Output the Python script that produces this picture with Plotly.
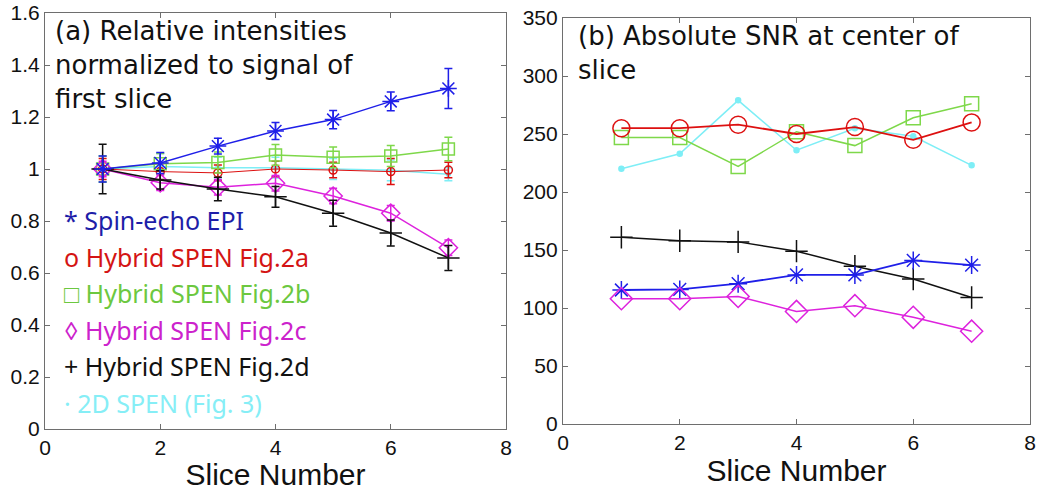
import plotly.graph_objects as go

W, H = 1038, 491

slices = [1, 2, 3, 4, 5, 6, 7]

# Panel (a): relative intensities
rel_epi = [1.0, 1.023, 1.088, 1.146, 1.19, 1.26, 1.31]
rel_epi_err = [0.05, 0.04, 0.03, 0.033, 0.035, 0.036, 0.077]
rel_2a = [1.0, 0.99, 0.985, 1.0, 0.996, 0.99, 0.996]
rel_2a_err = [0.04, 0.03, 0.03, 0.03, 0.03, 0.05, 0.03]
rel_2b = [1.0, 1.02, 1.025, 1.054, 1.045, 1.05, 1.077]
rel_2b_err = [0.05, 0.04, 0.04, 0.04, 0.04, 0.04, 0.045]
rel_2c = [1.0, 0.947, 0.93, 0.945, 0.896, 0.83, 0.697]
rel_2c_err = [0.03, 0.03, 0.03, 0.03, 0.03, 0.03, 0.03]
rel_2d = [1.0, 0.958, 0.923, 0.893, 0.83, 0.754, 0.658]
rel_2d_err = [0.095, 0.035, 0.045, 0.04, 0.05, 0.05, 0.048]
rel_2d_spen = [1.0, 1.01, 1.005, 1.005, 1.0, 0.995, 0.98]
rel_2d_spen_err = [0.05, 0.05, 0.04, 0.04, 0.04, 0.04, 0.025]

# Panel (b): absolute SNR
snr_epi = [115.5, 116, 121, 128.5, 128.5, 141, 137]
snr_2a = [255, 255, 258, 250, 256, 245, 260]
snr_2b = [247, 247, 222, 252, 240, 264, 276]
snr_2c = [108, 108, 110, 97, 102, 92, 80]
snr_2d = [161, 158, 157, 149, 136, 125, 109]
snr_2d_spen = [220, 233, 279, 236, 255, 248, 223]

legend_labels = ["* Spin-echo EPI", "o Hybrid SPEN Fig.2a", "□ Hybrid SPEN Fig.2b",
                 "◊ Hybrid SPEN Fig.2c", "+ Hybrid SPEN Fig.2d", "· 2D SPEN (Fig. 3)"]

C_BLUE = "#1f1fe8"
C_RED = "#dd1010"
C_GREEN = "#7ed84a"
C_MAG = "#dd22dd"
C_BLACK = "#111111"
C_CYAN = "#7eeef6"

text_colors = ["#1e1ea8", "#d41414", "#6cc840", "#cc22cc", "#111111", "#86eef6"]


def px(x):
    return x / W


def py(y):
    return 1 - y / H


fig = go.Figure()

left_series = [
    (rel_2d_spen, rel_2d_spen_err, C_CYAN, "circle", 4, 1.5),
    (rel_2a, rel_2a_err, C_RED, "circle-open", 8, 1.0),
    (rel_2b, rel_2b_err, C_GREEN, "square-open", 12, 1.5),
    (rel_2c, rel_2c_err, C_MAG, "diamond-open", 14, 1.5),
    (rel_2d, rel_2d_err, C_BLACK, "cross-thin-open", 16, 1.5),
    (rel_epi, rel_epi_err, C_BLUE, "asterisk-open", 14, 1.5),
]
for ys, errs, col, sym, sz, lw in left_series:
    fig.add_trace(go.Scatter(
        x=slices, y=ys, mode="lines+markers", xaxis="x", yaxis="y",
        line=dict(color=col, width=lw),
        marker=dict(symbol=sym, size=sz, color=col, line=dict(color=col, width=1.5)),
        error_y=dict(type="data", array=errs, visible=True, color=col, thickness=1.5, width=4),
        showlegend=False,
    ))

right_series = [
    (snr_2d_spen, C_CYAN, "circle", 5, 1.5),
    (snr_2b, C_GREEN, "square-open", 14, 1.5),
    (snr_2a, C_RED, "circle-open", 17, 1.8),
    (snr_2d, C_BLACK, "cross-thin-open", 16, 1.5),
    (snr_epi, C_BLUE, "asterisk-open", 15, 1.8),
    (snr_2c, C_MAG, "diamond-open", 17, 1.5),
]
for ys, col, sym, sz, lw in right_series:
    fig.add_trace(go.Scatter(
        x=slices, y=ys, mode="lines+markers", xaxis="x2", yaxis="y2",
        line=dict(color=col, width=lw),
        marker=dict(symbol=sym, size=sz, color=col, line=dict(color=col, width=1.5)),
        showlegend=False,
    ))

axis_common = dict(
    showgrid=False, zeroline=False, showline=True, linecolor="#6e6e6e", linewidth=1.2,
    mirror="ticks", ticks="inside", ticklen=5, tickcolor="#6e6e6e", automargin=False,
    tickfont=dict(family="Liberation Sans, Arial, sans-serif", size=21, color="#111111"),
)
title_font = dict(family="Liberation Sans, Arial, sans-serif", size=30, color="#111111")

fig.update_layout(
    width=W, height=H,
    margin=dict(l=0, r=0, t=0, b=0),
    paper_bgcolor="white", plot_bgcolor="white",
    hovermode=False,
    xaxis=dict(domain=[px(45), px(506)], range=[0, 8], dtick=2, anchor="y",
               title=dict(text="Slice Number", font=title_font, standoff=4), **axis_common),
    yaxis=dict(domain=[py(429), py(13)], range=[0, 1.6], dtick=0.2, anchor="x", **axis_common),
    xaxis2=dict(domain=[px(563), px(1030)], range=[0, 8], dtick=2, anchor="y2",
                title=dict(text="Slice Number", font=title_font, standoff=4), **axis_common),
    yaxis2=dict(domain=[py(424), py(18)], range=[0, 350], dtick=50, anchor="x2", **axis_common),
)

title_anno_font = dict(family="DejaVu Sans, Liberation Sans, sans-serif", size=26, color="#111111")
fig.add_annotation(x=px(53), y=py(14), xref="paper", yref="paper", xanchor="left", yanchor="top",
                   align="left", showarrow=False, font=title_anno_font,
                   text="(a) Relative intensities<br>normalized to signal of<br>first slice")
fig.add_annotation(x=px(576), y=py(19), xref="paper", yref="paper", xanchor="left", yanchor="top",
                   align="left", showarrow=False, font=title_anno_font,
                   text="(b) Absolute SNR at center of<br>slice")

legend_y = [220, 257, 293, 330, 366, 403]
for lab, col, yy in zip(legend_labels, text_colors, legend_y):
    fig.add_annotation(x=px(62), y=py(yy), xref="paper", yref="paper", xanchor="left", yanchor="middle",
                       showarrow=False, text=lab,
                       font=dict(family="Noto Sans, Open Sans, sans-serif", size=25, color=col))

# Remove the browser's default 8px body margin so the figure fills the window exactly.
fig.write_html("out.html", config={"displayModeBar": False},
               post_script="document.body.style.margin='0';")
